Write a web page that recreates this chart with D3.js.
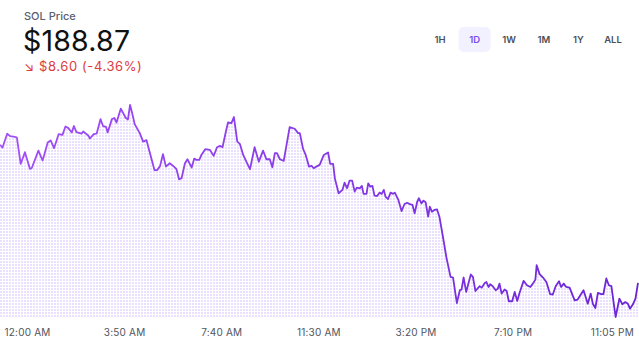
<!DOCTYPE html>
<html>
<head>
<meta charset="utf-8">
<script src="https://cdn.jsdelivr.net/npm/d3@7"></script>
<style>
  html, body { margin: 0; padding: 0; background: #fff; }
  svg { display: block; font-family: Inter, "Noto Sans", sans-serif; }
</style>
</head>
<body>
<div id="chart"></div>
<script>
'use strict';

// Minutes from midnight of the charted day (negative = previous evening)
const minutes = [
  -64, -58, -47, -40, -29, -24, -15, -5, 7, 11, 27, 37, 49, 56, 64, 75, 84, 91, 98, 106,
  111, 117, 129, 133, 145, 149, 158, 165, 174, 180, 187, 191, 201, 207, 212, 222, 234, 239, 244, 248,
  255, 267, 275, 283, 289, 302, 308, 315, 322, 329, 338, 348, 354, 360, 366, 374, 380, 390, 396, 401,
  408, 413, 422, 433, 442, 450, 457, 463, 471, 476, 484, 490, 498, 504, 512, 520, 528, 539, 549, 559,
  567, 575, 581, 587, 592, 599, 608, 622, 634, 642, 646, 654, 660, 668, 674, 679, 685, 693, 703, 713,
  718, 725, 729, 738, 747, 752, 758, 764, 770, 776, 781, 788, 793, 797, 804, 808, 813, 818, 823, 829,
  835, 840, 845, 849, 855, 861, 867, 871, 879, 887, 894, 900, 908, 913, 918, 924, 928, 934, 939, 944,
  950, 954, 959, 965, 971, 977, 985, 993, 1003, 1009, 1018, 1025, 1029, 1034, 1040, 1051, 1056, 1062, 1072, 1077,
  1084, 1088, 1093, 1097, 1103, 1110, 1115, 1119, 1124, 1131, 1136, 1141, 1149, 1155, 1161, 1166, 1176, 1184, 1192, 1198,
  1204, 1207, 1214, 1222, 1230, 1239, 1245, 1252, 1260, 1265, 1271, 1277, 1285, 1297, 1304, 1318, 1328, 1335, 1340, 1346,
  1352, 1360, 1365, 1372, 1378, 1384, 1394, 1403, 1410, 1417, 1423, 1428, 1435, 1441, 1447
];

// SOL price in USD at each of those minutes
const prices = [
  197.47, 197.30, 198.16, 198.01, 197.97, 197.92, 196.28, 197.01, 195.97, 196.01, 197.11, 196.49, 197.61, 197.74, 197.26, 198.14, 198.09, 198.61, 198.51, 198.24,
  198.64, 198.26, 198.17, 198.30, 198.05, 197.86, 198.14, 198.17, 199.07, 198.64, 198.59, 198.24, 199.07, 199.14, 198.86, 199.72, 199.14, 199.05, 199.95, 199.55,
  198.76, 198.20, 197.67, 197.76, 197.16, 195.89, 195.89, 196.14, 196.89, 196.11, 196.32, 196.11, 195.95, 195.32, 195.39, 196.32, 196.57, 196.05, 196.61, 196.53,
  196.53, 196.84, 197.20, 197.16, 196.78, 197.32, 197.40, 197.32, 198.30, 198.86, 198.82, 199.20, 197.67, 197.53, 196.84, 196.39, 195.95, 197.32, 196.42, 197.11,
  196.57, 196.57, 196.07, 196.95, 196.95, 196.57, 196.47, 198.57, 198.47, 198.20, 198.20, 197.20, 196.84, 196.11, 196.16, 196.01, 196.11, 196.22, 196.84, 196.99,
  196.28, 196.28, 195.39, 194.45, 194.66, 195.11, 194.76, 195.24, 195.24, 194.55, 194.80, 194.76, 194.91, 194.41, 194.41, 195.07, 194.86, 194.91, 194.30, 194.28,
  194.49, 194.41, 194.66, 194.24, 194.09, 194.49, 194.41, 194.49, 194.07, 193.34, 193.78, 193.86, 193.76, 193.72, 193.20, 193.92, 194.14, 193.82, 193.99, 193.89,
  192.99, 193.61, 193.30, 193.41, 193.45, 192.95, 191.74, 190.49, 189.24, 189.20, 187.61, 188.41, 188.45, 189.20, 188.30, 189.39, 189.24, 188.36, 188.66, 188.57,
  188.86, 188.92, 188.61, 188.78, 188.66, 188.41, 188.51, 188.82, 188.20, 188.45, 188.36, 187.72, 187.72, 188.30, 187.74, 188.20, 188.99, 188.72, 188.61, 188.82,
  189.07, 189.97, 189.41, 189.20, 188.92, 188.16, 188.13, 188.66, 188.97, 188.61, 188.82, 188.61, 188.57, 187.78, 187.83, 188.41, 187.57, 188.20, 187.57, 187.30,
  188.24, 188.16, 188.16, 189.14, 188.72, 188.66, 186.74, 187.89, 187.53, 187.67, 187.57, 187.26, 187.53, 187.89, 188.87
];

// Axis tick times (minutes from midnight)
const tickMinutes = [0, 230, 460, 690, 920, 1150, 1385];

const ranges = ['1H', '1D', '1W', '1M', '1Y', 'ALL'];
const activeRange = '1D';

const asset = 'SOL';
const lastPrice = prices[prices.length - 1];
const openPrice = prices[0];

const width = 639, height = 346;
const margins = { top: 105, right: 1, bottom: 29, left: 0 };

const day = new Date(2024, 0, 1, 0, 0);
const toDate = m => new Date(day.getTime() + m * 60000);

const data = minutes.map((m, i) => ({ date: toDate(m), price: prices[i] }));

const svg = d3.select('#chart').append('svg')
  .attr('width', width)
  .attr('height', height);

const defs = svg.append('defs');

// dotted fill under the line
const pattern = defs.append('pattern')
  .attr('id', 'dots')
  .attr('patternUnits', 'userSpaceOnUse')
  .attr('width', 3)
  .attr('height', 3);
pattern.append('rect')
  .attr('width', 2).attr('height', 2)
  .attr('fill', '#ece0ff');

const x = d3.scaleTime()
  .domain(d3.extent(data, d => d.date))
  .range([margins.left, width - margins.right]);

const y = d3.scaleLinear()
  .domain(d3.extent(data, d => d.price))
  .range([height - margins.bottom, margins.top]);

// line gradient, lighter purple to deeper purple
const grad = defs.append('linearGradient')
  .attr('id', 'lineGrad')
  .attr('gradientUnits', 'userSpaceOnUse')
  .attr('x1', x.range()[0]).attr('x2', x.range()[1])
  .attr('y1', 0).attr('y2', 0);
grad.append('stop').attr('offset', '0%').attr('stop-color', '#a24ff8');
grad.append('stop').attr('offset', '100%').attr('stop-color', '#6a25d6');

const area = d3.area()
  .x(d => x(d.date))
  .y0(height - margins.bottom)
  .y1(d => y(d.price));

const line = d3.line()
  .x(d => x(d.date))
  .y(d => y(d.price));

svg.append('path')
  .datum(data)
  .attr('d', area)
  .attr('fill', 'url(#dots)');

svg.append('path')
  .datum(data)
  .attr('d', line)
  .attr('fill', 'none')
  .attr('stroke', 'url(#lineGrad)')
  .attr('stroke-width', 1.8)
  .attr('stroke-linejoin', 'round');

// bottom axis, labels only
const axisX = d3.axisBottom(x)
  .tickValues(tickMinutes.map(toDate))
  .tickFormat(d3.timeFormat('%-I:%M %p'))
  .tickSize(0)
  .tickPadding(0);

svg.append('g')
  .attr('transform', `translate(0, ${height - 17})`)
  .call(axisX)
  .call(g => g.select('.domain').remove())
  .call(g => g.selectAll('text')
    .attr('fill', '#50545c')
    .style('font-size', '10px')
    .style('letter-spacing', '0.2px')
    .style('font-family', 'Inter, sans-serif'));

// header
svg.append('text')
  .attr('x', 24).attr('y', 20)
  .attr('fill', '#5a6070')
  .style('font-size', '11px')
  .style('font-weight', 500)
  .text(`${asset} Price`);

svg.append('text')
  .attr('x', 23).attr('y', 51)
  .attr('fill', '#111')
  .style('font-size', '28.5px')
  .style('font-weight', 400)
  .style('letter-spacing', '0.2px')
  .text(`$${lastPrice.toFixed(2)}`);

const diff = lastPrice - openPrice;
const pct = diff / openPrice * 100;
svg.append('text')
  .attr('x', 24).attr('y', 71)
  .attr('fill', '#de3b40')
  .style('font-size', '13px')
  .style('letter-spacing', '0.6px')
  .text(`\u2198 $${Math.abs(diff).toFixed(2)} (${pct.toFixed(2)}%)`);

// range selector
const btnX = d3.scalePoint()
  .domain(ranges)
  .range([440, 613]);

const btns = svg.append('g').selectAll('g.btn')
  .data(ranges)
  .join('g')
  .classed('btn', true)
  .attr('transform', d => `translate(${btnX(d)}, 40)`);

btns.filter(d => d === activeRange)
  .append('rect')
  .attr('x', -16).attr('y', -13)
  .attr('width', 32).attr('height', 25)
  .attr('rx', 5)
  .attr('fill', '#f2f1ff');

btns.append('text')
  .attr('text-anchor', 'middle')
  .attr('dy', '0.35em')
  .attr('fill', d => d === activeRange ? '#7a4df0' : '#4b4f58')
  .style('font-size', '9.5px')
  .style('font-weight', 600)
  .text(d => d);
</script>
</body>
</html>
